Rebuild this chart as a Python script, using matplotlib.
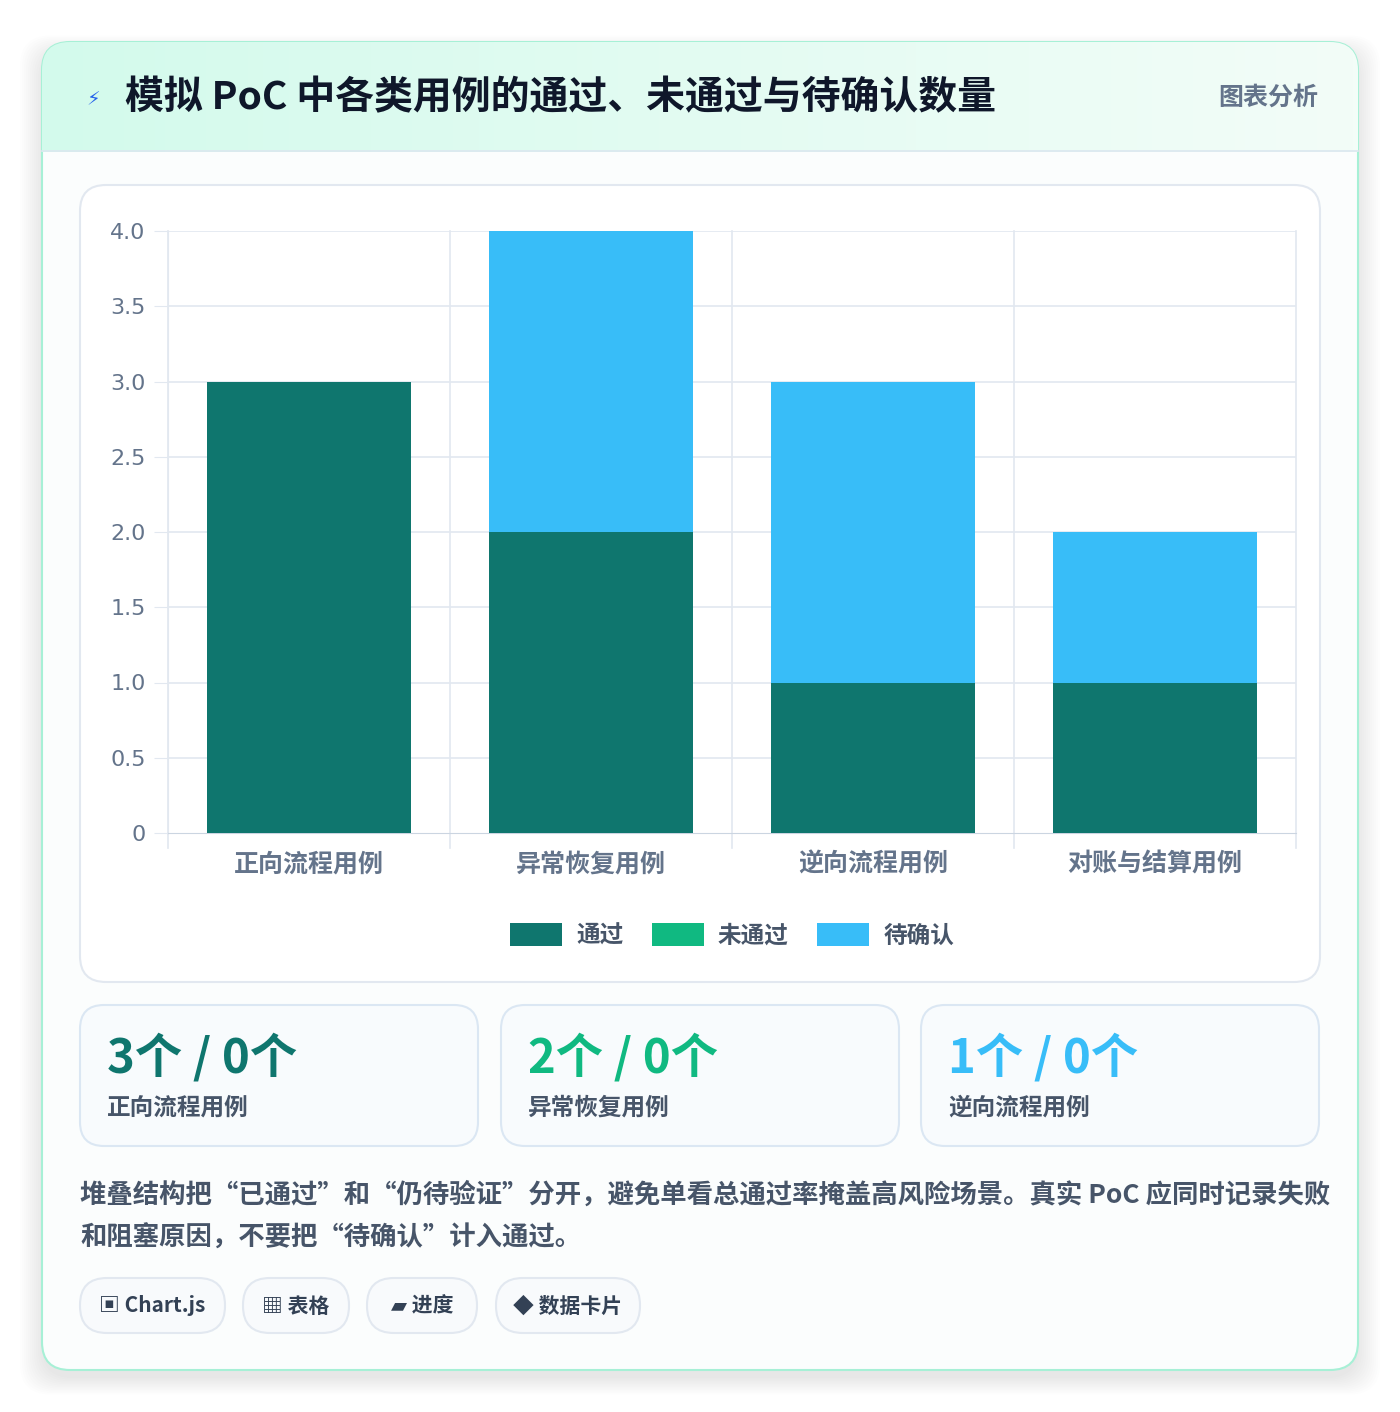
import matplotlib
matplotlib.use("Agg")
import matplotlib.pyplot as plt
import numpy as np
from matplotlib.patches import FancyBboxPatch, Rectangle

plt.rcParams['font.family'] = ['Noto Sans CJK SC', 'DejaVu Sans']

categories = ["正向流程用例", "异常恢复用例", "逆向流程用例", "对账与结算用例"]
passed = [3, 2, 1, 1]
failed = [0, 0, 0, 0]
pending = [0, 2, 2, 1]
series_names = ["通过", "未通过", "待确认"]
colors = ["#0f766e", "#10b981", "#38bdf8"]
yticks = [0, 0.5, 1.0, 1.5, 2.0, 2.5, 3.0, 3.5, 4.0]
ytick_labels = ["0", "0.5", "1.0", "1.5", "2.0", "2.5", "3.0", "3.5", "4.0"]
cards = [("3个 / 0个", "正向流程用例", "#0f766e"),
         ("2个 / 0个", "异常恢复用例", "#10b981"),
         ("1个 / 0个", "逆向流程用例", "#38bdf8")]
tags = ["▣ Chart.js", "▦ 表格", "▰ 进度", "◆ 数据卡片"]

W, H = 1400, 1412
fig = plt.figure(figsize=(W/100, H/100), dpi=100)
fig.patch.set_facecolor("white")
bg = fig.add_axes([0, 0, 1, 1], zorder=0)
bg.set_xlim(0, W); bg.set_ylim(H, 0); bg.axis("off")

# shadow
for i in range(12):
    bg.add_patch(FancyBboxPatch((42-i*2, 44-i*1.5+8), 1316+i*4, 1326+i*3,
                 boxstyle="round,pad=0,rounding_size=30", fc="#000000", ec="none", alpha=0.006))
outer = FancyBboxPatch((42, 42), 1316, 1328, boxstyle="round,pad=0,rounding_size=28",
                       fc="#fbfdfd", ec="#a7f0d6", lw=1.5)
bg.add_patch(outer)
# header gradient
grad = np.linspace(0, 1, 256)[None, :]
from matplotlib.colors import LinearSegmentedColormap
cm = LinearSegmentedColormap.from_list("g", ["#d3faec", "#f3fdf8"])
im = bg.imshow(grad, cmap=cm, extent=(42, 1358, 152, 42), aspect="auto", zorder=1)
im.set_clip_path(outer)
bg.plot([42, 1358], [151, 151], color="#dbe7ef", lw=1.2, zorder=2)
bg.text(86, 100, "⚡", fontsize=14, color="#2563eb", va="center", ha="left", zorder=3,
        family=['DejaVu Sans'])
bg.text(125, 98, "模拟 PoC 中各类用例的通过、未通过与待确认数量", fontsize=28, fontweight="bold",
        color="#0f172a", va="center", ha="left", zorder=3)
bg.text(1318, 98, "图表分析", fontsize=18, fontweight="bold", color="#64748b", va="center", ha="right", zorder=3)

# chart card
bg.add_patch(FancyBboxPatch((80, 185), 1240, 797, boxstyle="round,pad=0,rounding_size=26",
                            fc="white", ec="#e2e8f0", lw=1.5))
# stat cards
xs = [80, 501, 921]
for (big, small, c), x in zip(cards, xs):
    bg.add_patch(FancyBboxPatch((x, 1005), 398, 141, boxstyle="round,pad=0,rounding_size=24",
                                fc="#f8fbfd", ec="#dbe7f3", lw=1.5))
    bg.text(x+27, 1058, big, fontsize=34, fontweight="bold", color=c, va="center", ha="left")
    bg.text(x+27, 1108, small, fontsize=17, fontweight="bold", color="#475569", va="center", ha="left")

bg.text(80, 1195, "堆叠结构把“已通过”和“仍待验证”分开，避免单看总通过率掩盖高风险场景。真实 PoC 应同时记录失败",
        fontsize=19, fontweight="bold", color="#475569", va="center", ha="left")
bg.text(80, 1238, "和阻塞原因，不要把“待确认”计入通过。",
        fontsize=19, fontweight="bold", color="#475569", va="center", ha="left")

tag_x = [80, 243, 367, 496]
tag_w = [145, 106, 110, 144]
for t, x, w in zip(tags, tag_x, tag_w):
    bg.add_patch(FancyBboxPatch((x, 1278), w, 55, boxstyle="round,pad=0,rounding_size=27",
                                fc="#f8fafc", ec="#e2e8f0", lw=1.5))
    bg.text(x+w/2, 1306, t, fontsize=15, fontweight="bold", color="#334155", va="center", ha="center")

# chart
ax = fig.add_axes([168/W, 1-833/H, 1128/W, 602/H], zorder=2)
ax.set_facecolor("none")
x = np.arange(len(categories))
bw = 0.72
bottom = np.zeros(len(categories))
for vals, name, c in zip([passed, failed, pending], series_names, colors):
    ax.bar(x, vals, bw, bottom=bottom, color=c, label=name, zorder=3)
    bottom += np.array(vals)
ax.set_xlim(-0.5, len(categories)-0.5)
ax.set_ylim(0, 4)
ax.set_yticks(yticks)
ax.set_yticklabels(ytick_labels, fontsize=16, color="#64748b", family=['DejaVu Sans'])
ax.set_xticks(x)
ax.set_xticklabels(categories, fontsize=18, fontweight="bold", color="#64748b")
ax.tick_params(axis="x", length=0, pad=14)
ax.tick_params(axis="y", length=10, color="#e2e8f0", pad=6)
for yv in yticks[1:]:
    ax.axhline(yv, color="#e2e8f0", lw=1.2, zorder=1)
for xv in np.arange(-0.5, len(categories), 1.0):
    ax.plot([xv, xv], [-0.1, 4], color="#e2e8f0", lw=1.2, zorder=1, clip_on=False)
for s in ["top", "right"]:
    ax.spines[s].set_visible(False)
ax.spines["left"].set_color("#e2e8f0")
ax.spines["bottom"].set_color("#cbd5e1")
leg = ax.legend(loc="upper center", bbox_to_anchor=(0.5, -0.115), ncol=3, frameon=False,
                fontsize=17, handlelength=2.2, handleheight=1.1, columnspacing=1.2, handletextpad=0.6)
for t in leg.get_texts():
    t.set_color("#475569"); t.set_fontweight("bold")

fig.savefig("out.png", dpi=100)
